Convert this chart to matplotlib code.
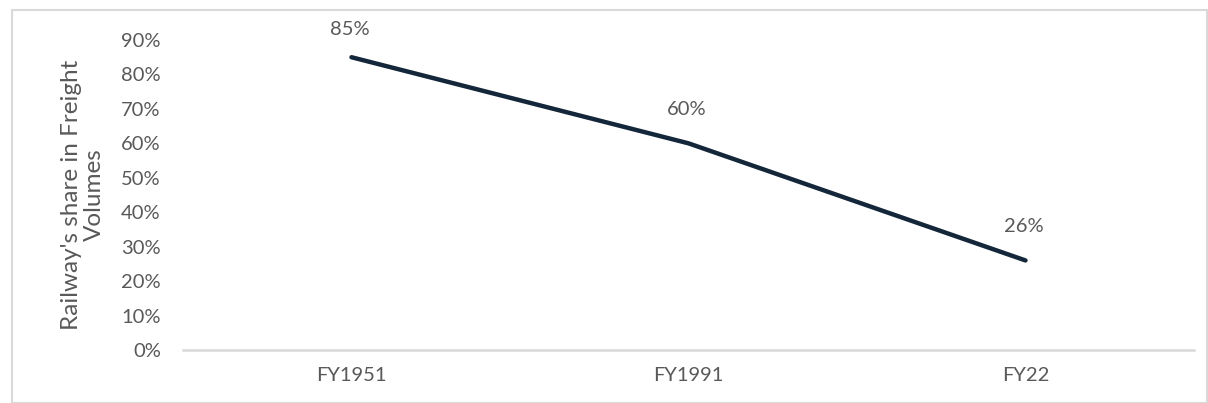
import matplotlib.pyplot as plt
from matplotlib.patches import Rectangle
from matplotlib.ticker import PercentFormatter

years = ['FY1951', 'FY1991', 'FY22']
share = [85, 60, 26]
yticks = [0, 10, 20, 30, 40, 50, 60, 70, 80, 90]

plt.rcParams['font.family'] = ['Lato', 'DejaVu Sans']
txt = '#595959'

fig = plt.figure(figsize=(12.08, 4.03), dpi=100)
ax = fig.add_axes([183 / 1208, 1 - 350 / 403, (1194 - 183) / 1208, 310 / 403])

# light frame around the chart area
fig.patches.append(Rectangle((12 / 1208, 0), 1195 / 1208, 1 - 10 / 403,
                             transform=fig.transFigure, fill=False,
                             edgecolor='#d9d9d9', lw=1.5))

x = range(len(years))
ax.plot(x, share, color='#14273a', lw=3.2, solid_capstyle='round')
label_dy = [14, 18, 18]
for i, v, dy in zip(x, share, label_dy):
    ax.annotate(f'{v}%', (i, v), xytext=(-1, dy), textcoords='offset points',
                ha='center', va='bottom', fontsize=14.5, color=txt)

ax.set_xlim(-0.5, len(years) - 0.5)
ax.set_ylim(0, 90)
ax.set_yticks(yticks)
ax.yaxis.set_major_formatter(PercentFormatter(decimals=0))
ax.set_xticks(list(x))
ax.set_xticklabels(years)
ax.tick_params(axis='both', length=0, labelsize=14.5, labelcolor=txt)
ax.tick_params(axis='x', pad=12)
ax.tick_params(axis='y', pad=16)

for s in ['top', 'right', 'left']:
    ax.spines[s].set_visible(False)
ax.spines['bottom'].set_color('#d9d9d9')
ax.spines['bottom'].set_linewidth(1.8)

ax.set_ylabel("Railway's share in Freight\nVolumes", fontsize=17.5,
              color=txt, labelpad=12, linespacing=1.1)

fig.savefig('out.png', dpi=100)
